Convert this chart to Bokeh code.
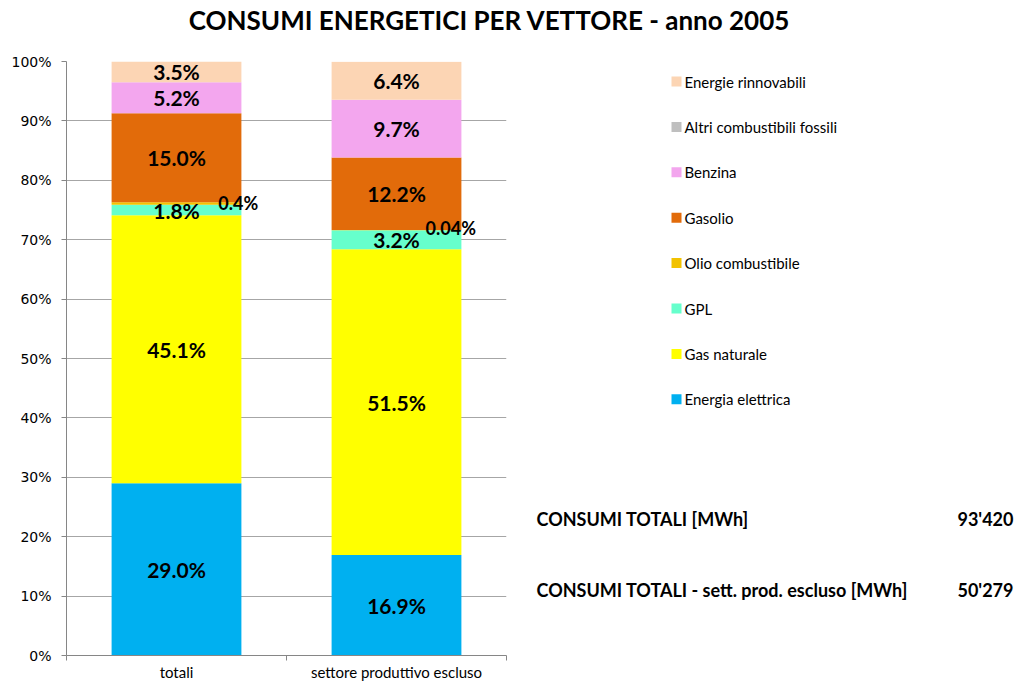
from bokeh.plotting import figure
from bokeh.layouts import column, row
from bokeh.models import ColumnDataSource, Range1d, FixedTicker, NumeralTickFormatter
from bokeh.core.properties import value
from bokeh.embed import file_html
from bokeh.resources import INLINE

# ---- data ----
categories = ["totali", "settore produttivo escluso"]
series = ["Energia elettrica", "Gas naturale", "GPL", "Olio combustibile",
          "Gasolio", "Benzina", "Altri combustibili fossili", "Energie rinnovabili"]
totali = [29.0, 45.1, 1.8, 0.4, 15.0, 5.2, 0.0, 3.5]
settore = [16.9, 51.5, 3.2, 0.04, 12.2, 9.7, 0.0, 6.4]
colors = ["#00B0F0", "#FFFF00", "#66FFCC", "#F2C200",
          "#E26B0A", "#F3A6EE", "#BFBFBF", "#FCD5B4"]
title_text = "CONSUMI ENERGETICI PER VETTORE - anno 2005"
total_labels = ["CONSUMI TOTALI [MWh]", "CONSUMI TOTALI - sett. prod. escluso [MWh]"]
total_values = [93420, 50279]
y_ticks = [0, 0.1, 0.2, 0.3, 0.4, 0.5, 0.6, 0.7, 0.8, 0.9, 1.0]

FONT = "Lato"
PW, PH = 1019, 683          # whole picture
TH = 45                     # title strip height
LW = 520                    # chart part width
CH = PH - TH                # chart part height
FL, FT, FW, FH = 66, 16, 440, 594
FB = CH - FT - FH

# ---- title strip ----
pt = figure(width=PW, height=TH, output_backend="svg", toolbar_location=None,
            x_range=Range1d(0, PW), y_range=Range1d(TH, 0),
            x_axis_type=None, y_axis_type=None,
            min_border=0, min_border_left=0, min_border_right=0,
            min_border_top=0, min_border_bottom=0)
pt.outline_line_color = None
pt.xgrid.grid_line_color = None
pt.ygrid.grid_line_color = None
pt.text(x=[489], y=[19], text=[title_text], text_align="center", text_baseline="middle",
        text_font=value(FONT), text_font_style="bold", text_font_size="26px",
        text_color="#000000")

# ---- chart ----
p = figure(width=LW, height=CH, output_backend="svg", toolbar_location=None,
           x_range=Range1d(0, 2), y_range=Range1d(0, 1),
           min_border_left=FL, min_border_right=LW - FL - FW,
           min_border_top=FT, min_border_bottom=FB)
p.outline_line_color = None

xs = [0.5, 1.5]
data = {"x": xs}
for s, a, b in zip(series, totali, settore):
    data[s] = [a / 100.0, b / 100.0]
src = ColumnDataSource(data)
p.vbar_stack(series, x="x", width=0.59, color=colors, source=src, line_width=0)

p.xaxis.ticker = FixedTicker(ticks=xs, minor_ticks=[0, 1, 2])
p.xaxis.major_label_overrides = {0.5: categories[0], 1.5: categories[1]}
p.xaxis.major_tick_out = 0
p.xaxis.major_tick_in = 0
p.xaxis.minor_tick_out = 5
p.xaxis.minor_tick_in = 0
p.xaxis.minor_tick_line_color = "#868686"
p.xaxis.axis_line_color = "#868686"
p.xaxis.major_label_text_font = FONT
p.xaxis.major_label_text_font_size = "15px"
p.xaxis.major_label_text_color = "#000000"
p.xaxis.major_label_standoff = 2

p.yaxis.ticker = FixedTicker(ticks=y_ticks)
p.yaxis.formatter = NumeralTickFormatter(format="0%")
p.yaxis.major_tick_out = 5
p.yaxis.major_tick_in = 0
p.yaxis.minor_tick_line_color = None
p.yaxis.major_tick_line_color = "#868686"
p.yaxis.axis_line_color = "#868686"
p.yaxis.major_label_text_font = "DejaVu Sans"
p.yaxis.major_label_text_font_size = "14px"
p.yaxis.major_label_text_color = "#000000"
p.yaxis.major_label_standoff = 10

p.xgrid.grid_line_color = None
p.ygrid.ticker = FixedTicker(ticks=y_ticks)
p.ygrid.grid_line_color = "#A6A6A6"

# data labels
lx, ly, lt, la, ls = [], [], [], [], []
small_dx = [0.19, 0.132]
for i, vals in enumerate([totali, settore]):
    cum = 0.0
    for v in vals:
        if v > 0:
            mid = (cum + v / 2.0) / 100.0
            if v < 1.0:
                txt = f"{v:.1f}%" if v >= 0.1 else f"{v:.2f}%"
                lx.append(xs[i] + small_dx[i]); la.append("left"); ls.append("18px")
                ly.append(mid + (0.0 if i == 0 else 0.004))
            else:
                txt = f"{v:.1f}%"
                lx.append(xs[i]); la.append("center"); ls.append("21px")
                ly.append(mid)
            lt.append(txt)
        cum += v
lsrc = ColumnDataSource(dict(x=lx, y=ly, t=lt, a=la, s=ls))
p.text(x="x", y="y", text="t", source=lsrc, text_align="a", text_baseline="middle",
       text_font=value(FONT), text_font_style="bold", text_font_size="s",
       text_color="#000000")

# ---- right side: legend + totals (page pixel coordinates) ----
pr = figure(width=PW - LW, height=CH, output_backend="svg", toolbar_location=None,
            x_range=Range1d(LW, PW), y_range=Range1d(TH + FT + FH, TH + FT),
            x_axis_type=None, y_axis_type=None,
            min_border=0, min_border_left=0, min_border_right=0,
            min_border_top=FT, min_border_bottom=FB)
pr.outline_line_color = None
pr.xgrid.grid_line_color = None
pr.ygrid.grid_line_color = None

leg_series = series[::-1]
leg_colors = colors[::-1]
leg_y = [81 + k * 45.4 for k in range(len(leg_series))]
pr.scatter(x=[676] * len(leg_series), y=leg_y, marker="square", size=10,
           color=leg_colors, line_width=0)
pr.text(x=[684] * len(leg_series), y=leg_y, text=leg_series, text_align="left",
        text_baseline="middle", text_font=value(FONT), text_font_size="15px",
        text_color="#000000")

val_txt = [f"{v:,}".replace(",", "'") for v in total_values]
ty = [518, 589]
pr.text(x=[536, 536], y=ty, text=total_labels, text_align="left", text_baseline="middle",
        text_font=value(FONT), text_font_style="bold", text_font_size="18px",
        text_color="#000000")
pr.text(x=[1013, 1013], y=ty, text=val_txt, text_align="right", text_baseline="middle",
        text_font=value(FONT), text_font_style="bold", text_font_size="18px",
        text_color="#000000")

layout = column(pt, row(p, pr))
open("out.html", "w").write(file_html(layout, INLINE))
